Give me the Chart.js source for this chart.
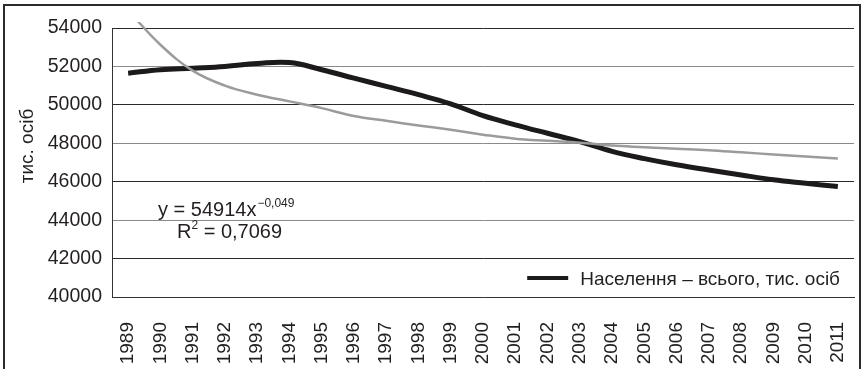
<!DOCTYPE html>
<html lang="uk">
<head>
    <meta charset="UTF-8">
    <title>Населення України</title>
    <script src="https://cdn.jsdelivr.net/npm/chart.js"></script>
    <style>
        html, body { margin: 0; padding: 0; background: #fff; overflow: hidden; }
        .frame { position: absolute; left: 3px; top: 4px; width: 854px; height: 380px; border: 2px solid #2b2b2b; }
        .wrap { position: absolute; left: 0; top: 0; width: 866px; height: 369px; }
    </style>
</head>
<body>
    <div class="frame"></div>
    <div class="wrap"><canvas id="popChart"></canvas></div>
    <script>
        // years on the x axis
        const years = ['1989', '1990', '1991', '1992', '1993', '1994', '1995', '1996', '1997', '1998', '1999', '2000',
                       '2001', '2002', '2003', '2004', '2005', '2006', '2007', '2008', '2009', '2010', '2011'];

        // population, thousand persons (black line)
        const population = [51650, 51830, 51910, 52000, 52150, 52200, 51830, 51390, 50960, 50530, 50050, 49440,
                            48960, 48520, 48090, 47580, 47200, 46880, 46610, 46350, 46100, 45920, 45750];

        // power trend line as drawn (grey line)
        const trend = [54914, 53130, 51780, 51000, 50530, 50180, 49830, 49420, 49170, 48930, 48700, 48450,
                       48240, 48130, 48030, 47880, 47800, 47720, 47640, 47530, 47420, 47310, 47210];

        const yMin = 40000;
        const yMax = 54000;
        const yStep = 2000;

        const legendLabel = 'Населення – всього, тис. осіб';
        const axisTitle = 'тис. осіб';
        const fitText = ['y = 54914x', '−0,049', 'R', '2', ' = 0,7069'];

        const FONT = '"Liberation Sans", Arial, Helvetica, sans-serif';
        const INK = '#231f20';

        // legend, axis title and trend equation drawn on top
        const extras = {
            id: 'extras',
            afterDraw(chart) {
                const ctx = chart.ctx;
                const area = chart.chartArea;
                ctx.save();
                ctx.fillStyle = INK;

                // y axis title
                ctx.save();
                ctx.font = '19px ' + FONT;
                ctx.translate(33, 146);
                ctx.rotate(-Math.PI / 2);
                ctx.textAlign = 'center';
                ctx.textBaseline = 'alphabetic';
                ctx.fillText(axisTitle, 0, 0);
                ctx.restore();

                // equation
                ctx.textBaseline = 'alphabetic';
                ctx.textAlign = 'left';
                ctx.font = '20px ' + FONT;
                ctx.fillText(fitText[0], 158, 216);
                let w = ctx.measureText(fitText[0]).width;
                ctx.font = '12px ' + FONT;
                ctx.fillText(fitText[1], 158 + w + 1, 207);
                ctx.font = '20px ' + FONT;
                ctx.fillText(fitText[2], 177, 238);
                w = ctx.measureText(fitText[2]).width;
                ctx.font = '12px ' + FONT;
                ctx.fillText(fitText[3], 177 + w, 229);
                const w2 = ctx.measureText(fitText[3]).width;
                ctx.font = '20px ' + FONT;
                ctx.fillText(fitText[4], 177 + w + w2, 238);

                // legend
                const ds = chart.data.datasets[0];
                ctx.font = '19px ' + FONT;
                const tw = ctx.measureText(legendLabel).width;
                const tx = area.right - 14 - tw;
                const ty = area.bottom - 19;
                ctx.fillText(legendLabel, tx, ty + 7);
                ctx.strokeStyle = ds.borderColor;
                ctx.lineWidth = 4;
                ctx.beginPath();
                ctx.moveTo(tx - 53, ty);
                ctx.lineTo(tx - 12, ty);
                ctx.stroke();

                ctx.restore();
            }
        };

        const ctx = document.getElementById('popChart').getContext('2d');
        const chart = new Chart(ctx, {
            type: 'line',
            data: {
                labels: years,
                datasets: [{
                    label: legendLabel,
                    data: population,
                    borderColor: '#1c1a1b',
                    borderWidth: 5,
                    tension: 0.4,
                    pointRadius: 0,
                    fill: false,
                    order: 1
                }, {
                    label: 'Степенева (' + legendLabel + ')',
                    data: trend,
                    borderColor: '#9b9b9b',
                    borderWidth: 2.5,
                    tension: 0.4,
                    pointRadius: 0,
                    fill: false,
                    order: 0,
                    clip: { left: 0, top: 6, right: 0, bottom: 0 }
                }]
            },
            options: {
                responsive: true,
                maintainAspectRatio: false,
                animation: false,
                devicePixelRatio: 1,
                layout: { padding: { top: 28, right: 12, left: 0, bottom: 0 } },
                plugins: {
                    legend: { display: false },
                    tooltip: { enabled: false }
                },
                scales: {
                    x: {
                        offset: true,
                        grid: { display: false },
                        border: { display: true, color: '#333', width: 1 },
                        ticks: {
                            autoSkip: false,
                            maxRotation: 90,
                            minRotation: 90,
                            padding: 17,
                            color: INK,
                            font: { size: 19, family: FONT }
                        },
                        afterFit: s => {
                            s.height = 72;
                            s.paddingLeft = 0;
                            s.paddingRight = 0;
                        }
                    },
                    y: {
                        min: yMin,
                        max: yMax,
                        grid: {
                            drawTicks: false,
                            lineWidth: 1,
                            color: c => (c.tick && (c.tick.value / yStep) % 2 === 1) ? '#2a2a2a' : '#8a8a8a'
                        },
                        border: { display: true, color: '#333', width: 1 },
                        ticks: {
                            stepSize: yStep,
                            padding: 10,
                            color: INK,
                            font: { size: 19.5, family: FONT },
                            callback: v => String(v)
                        },
                        afterFit: s => { s.width = 112; }
                    }
                }
            },
            plugins: [extras]
        });
    </script>
</body>
</html>
